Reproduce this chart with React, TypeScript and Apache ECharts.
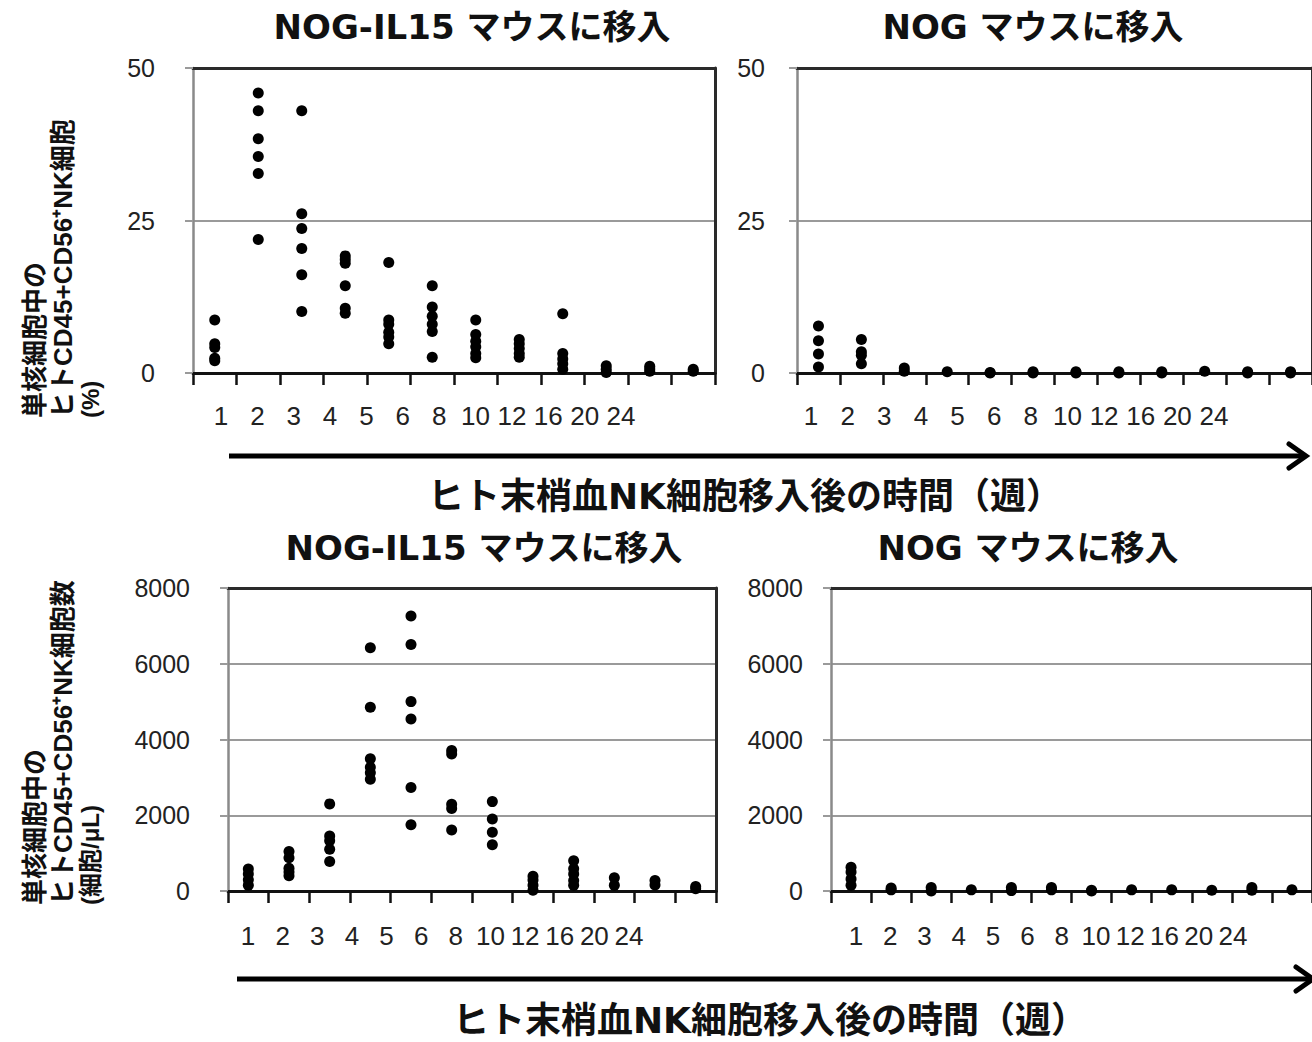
import React, { useEffect, useRef } from "react";
import * as echarts from "echarts";

// ---- data ----
const weekLabels = ["1", "2", "3", "4", "5", "6", "8", "10", "12", "16", "20", "24"];

const pctIL15: number[][] = [
  [8.7, 4.8, 4.2, 2.4, 2.0],
  [45.9, 43.0, 38.4, 35.5, 32.7, 21.9],
  [43.0, 26.1, 23.7, 20.4, 16.1, 10.1],
  [19.2, 18.6, 18.0, 14.3, 10.6, 9.8],
  [18.1, 8.7, 8.0, 6.7, 5.9, 4.8],
  [14.3, 10.8, 9.3, 8.0, 6.8, 2.6],
  [8.7, 6.3, 5.2, 4.3, 3.2, 2.5],
  [5.5, 4.8, 4.0, 3.2, 2.6],
  [9.7, 3.2, 2.3, 1.5, 0.6],
  [1.2, 0.6, 0.1],
  [1.1, 0.7, 0.3],
  [0.6, 0.3],
];

const pctNOG: number[][] = [
  [7.7, 5.3, 3.1, 1.0],
  [5.5, 3.5, 2.9, 1.5],
  [0.8, 0.3],
  [0.2],
  [0.1, 0],
  [0.2, 0],
  [0.2, 0],
  [0.2, 0],
  [0.2, 0],
  [0.3],
  [0.2, 0],
  [0.2, 0],
];

const countIL15: number[][] = [
  [580, 450, 300, 150],
  [1040, 880, 600, 500, 400],
  [2300, 1450, 1330, 1100, 780],
  [6420, 4850, 3490, 3270, 3120, 2950],
  [7260, 6510, 5000, 4540, 2730, 1750],
  [3710, 3620, 2290, 2180, 1610],
  [2360, 1900, 1550, 1220],
  [390, 290, 150, 20],
  [800, 590, 450, 280, 150],
  [350, 150],
  [280, 160],
  [120, 60],
];

const countNOG: number[][] = [
  [630, 500, 320, 150],
  [80, 30],
  [90, 0],
  [30],
  [90, 10],
  [90, 30],
  [20, 0],
  [30],
  [30],
  [20],
  [90, 20],
  [30],
];

const pctTicks = { max: 50, interval: 25 };
const countTicks = { max: 8000, interval: 2000 };

const panelTitles = ["NOG-IL15 マウスに移入", "NOG マウスに移入"];
const xTitle = "ヒト末梢血NK細胞移入後の時間（週）";
const yTitlePct = ["単核細胞中の", "ヒトCD45+CD56⁺NK細胞", "(%)"];
const yTitleCount = ["単核細胞中の", "ヒトCD45+CD56⁺NK細胞数", "(細胞/μL)"];

// ---- layout ----
const panels = [
  { values: pctIL15, ticks: pctTicks, grid: { left: 193, top: 68, width: 522, height: 305 }, labelMargin: 38, lab: { x0: 221, x1: 621, y: 415 } },
  { values: pctNOG, ticks: pctTicks, grid: { left: 797, top: 68, width: 520, height: 305 }, labelMargin: 32, lab: { x0: 811, x1: 1214, y: 415 } },
  { values: countIL15, ticks: countTicks, grid: { left: 228, top: 588, width: 488, height: 303 }, labelMargin: 38, lab: { x0: 248, x1: 629, y: 935 } },
  { values: countNOG, ticks: countTicks, grid: { left: 831, top: 588, width: 487, height: 303 }, labelMargin: 28, lab: { x0: 856, x1: 1233, y: 935 } },
];

const NARROW = "'Liberation Sans Narrow', 'Liberation Sans', Arial, sans-serif";
const TITLE_FONT = "'DejaVu Sans', 'Noto Sans CJK JP', sans-serif";
const YT_FONT = "'Liberation Sans', 'Noto Sans CJK JP', sans-serif";

function buildOption() {
  const grid: any[] = [];
  const xAxis: any[] = [];
  const yAxis: any[] = [];
  const series: any[] = [];

  panels.forEach((p) => {
    grid.push({ ...p.grid, containLabel: false });
  });
  panels.forEach((p) => {
    grid.push({ left: p.lab.x0, width: p.lab.x1 - p.lab.x0, top: p.lab.y - 14, height: 1 });
  });

  // main axes
  panels.forEach((p, i) => {
    xAxis.push({
      gridIndex: i,
      type: "category",
      data: weekLabels,
      boundaryGap: true,
      axisLine: { show: true, lineStyle: { color: "#111", width: 3 } },
      axisTick: { show: true, interval: 0, length: 12, lineStyle: { color: "#111", width: 2.5 } },
      axisLabel: { show: false },
      splitLine: { show: false },
    });
    yAxis.push({
      gridIndex: i,
      type: "value",
      min: 0,
      max: p.ticks.max,
      interval: p.ticks.interval,
      axisLine: { show: true, lineStyle: { color: "#8a8a8a", width: 2.5 } },
      axisTick: { show: true, length: 8, lineStyle: { color: "#9a9a9a", width: 2 } },
      axisLabel: {
        show: true,
        margin: p.labelMargin,
        fontSize: 25,
        fontFamily: NARROW,
        color: "#222",
        formatter: (v: number) => String(v),
      },
      splitLine: { show: true, lineStyle: { color: "#9a9a9a", width: 2 } },
    });
  });
  // top / right frame lines
  panels.forEach((p, i) => {
    xAxis.push({
      gridIndex: i,
      type: "category",
      position: "top",
      data: weekLabels,
      axisLine: { show: true, onZero: false, lineStyle: { color: "#2a2a2a", width: 3 } },
      axisTick: { show: false },
      axisLabel: { show: false },
      splitLine: { show: false },
    });
    yAxis.push({
      gridIndex: i,
      type: "value",
      position: "right",
      min: 0,
      max: p.ticks.max,
      interval: p.ticks.interval,
      axisLine: { show: true, onZero: false, lineStyle: { color: "#2a2a2a", width: 3 } },
      axisTick: { show: false },
      axisLabel: { show: false },
      splitLine: { show: false },
    });
  });
  // offset week-label axes
  panels.forEach((p, i) => {
    xAxis.push({
      gridIndex: 4 + i,
      type: "category",
      data: weekLabels,
      boundaryGap: false,
      axisLine: { show: false },
      axisTick: { show: false },
      axisLabel: { show: true, interval: 0, margin: 0, fontSize: 26, lineHeight: 27, fontFamily: NARROW, color: "#222" },
      splitLine: { show: false },
    });
    yAxis.push({ gridIndex: 4 + i, type: "value", show: false, min: 0, max: 1 });
  });

  panels.forEach((p, i) => {
    series.push({
      type: "scatter",
      xAxisIndex: i,
      yAxisIndex: i,
      symbol: "circle",
      symbolSize: 11,
      itemStyle: { color: "#000", opacity: 1 },
      data: p.values.flatMap((col, ci) => col.map((v) => [ci, v])),
      clip: false,
    });
  });

  const titleStyle = (text: string, x: number, y: number, size: number) => ({
    type: "text",
    x,
    y,
    style: { text, fontSize: size, fontWeight: "bold", fontFamily: TITLE_FONT, fill: "#111", align: "center", verticalAlign: "middle" },
  });

  const yTitle = (lines: string[], baseY: number) =>
    lines.map((t, k) => ({
      type: "text",
      x: [35, 63, 90][k],
      y: baseY,
      rotation: Math.PI / 2,
      style: {
        text: t,
        fontSize: k === 2 ? 24 : 26,
        fontWeight: "bold",
        fontFamily: YT_FONT,
        fill: "#111",
        align: "left",
        verticalAlign: "middle",
      },
    }));

  const arrow = (x1: number, x2: number, y: number) => [
    { type: "line", shape: { x1, y1: y, x2: x2 - 2, y2: y }, style: { stroke: "#000", lineWidth: 5 } },
    {
      type: "polyline",
      shape: { points: [[x2 - 17, y - 12], [x2, y], [x2 - 17, y + 12]] },
      style: { stroke: "#000", lineWidth: 5, fill: null, lineCap: "round", lineJoin: "miter" },
    },
  ];

  const graphic = [
    titleStyle(panelTitles[0], 472, 27, 34),
    titleStyle(panelTitles[1], 1033, 27, 34),
    titleStyle(panelTitles[0], 484, 548, 34),
    titleStyle(panelTitles[1], 1028, 548, 34),
    titleStyle(xTitle, 745, 496, 36),
    titleStyle(xTitle, 770, 1020, 36),
    ...yTitle(yTitlePct, 418),
    ...yTitle(yTitleCount, 905),
    ...arrow(229, 1306, 456),
    ...arrow(237, 1313, 979),
  ];

  return {
    animation: false,
    backgroundColor: "#ffffff",
    grid,
    xAxis,
    yAxis,
    series,
    graphic,
  };
}

export default function App() {
  const ref = useRef<HTMLDivElement>(null);
  useEffect(() => {
    if (!ref.current) return;
    const chart = echarts.init(ref.current, undefined, { renderer: "svg" });
    chart.setOption(buildOption() as any);
    return () => chart.dispose();
  }, []);
  return (
    <div
      ref={ref}
      style={{ position: "absolute", left: 0, top: 0, width: 1312, height: 1042, background: "#fff" }}
    />
  );
}
